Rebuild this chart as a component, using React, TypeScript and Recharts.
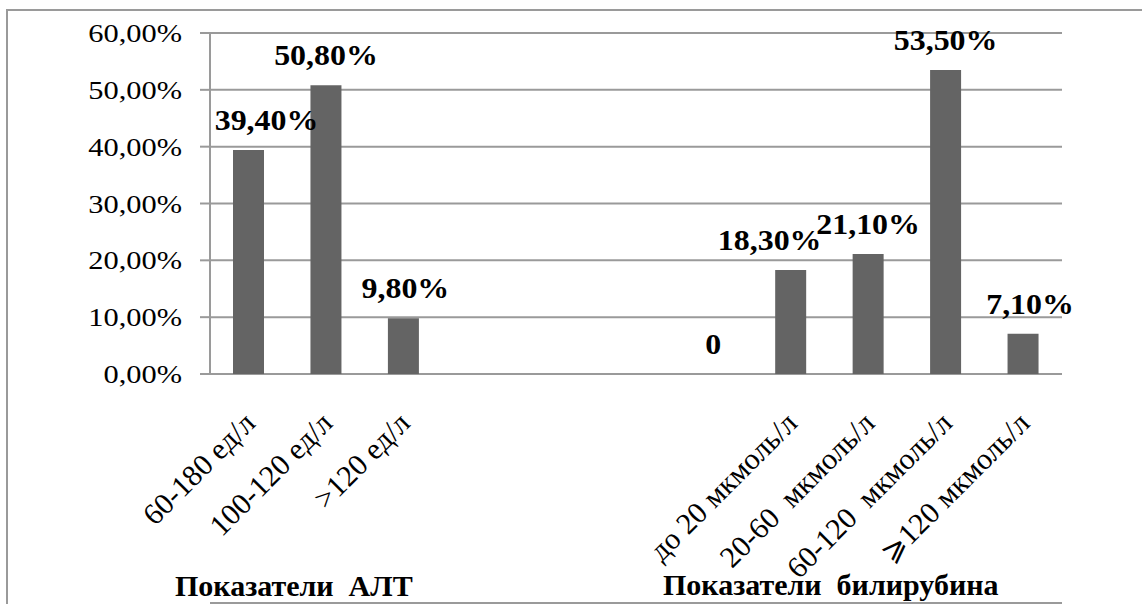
import React from 'react';
import { BarChart, Bar, XAxis, YAxis, CartesianGrid, LabelList, Customized } from 'recharts';

// Categories along the x axis; empty names are spacer slots between the two groups
const categories = [
  '60-180 ед/л',
  '100-120 ед/л',
  '>120 ед/л',
  '',
  '',
  '',
  '',
  'до 20 мкмоль/л',
  '20-60  мкмоль/л',
  '60-120  мкмоль/л',
  '⩾120 мкмоль/л',
];

// Share of patients, percent (null = no bar)
const shares: (number | null)[] = [39.4, 50.8, 9.8, null, null, null, 0, 18.3, 21.1, 53.5, 7.1];

const yTicks = [0, 10, 20, 30, 40, 50, 60];
const slotEdges = [0, 1, 2, 3, 4, 5, 6, 7, 8, 9, 10, 11];

const groupTitles = ['Показатели  АЛТ', 'Показатели  билирубина'];

// Horizontal nudges for the value labels, px, per slot
const labelShift = [18, 0, 2, 0, 0, 0, 0, -21, 0, 0, 7];

const data = categories.map((name, i) => ({ name, value: shares[i], slot: i }));

const FONT = '"Liberation Serif", "Times New Roman", serif';
const GRID = '#9a9a9a';
const BAR = '#646464';

const fmtPct = (v: number) => (v === 0 ? '0' : `${v.toFixed(2).replace('.', ',')}%`);
const yTickText = (v: number) => `${v.toFixed(2).replace('.', ',')}%`;

const YTickLabel = (props: any) => {
  const { x, y, payload } = props;
  return (
    <text
      transform={`translate(${x}, ${y}) scale(1.17, 1)`}
      x={0}
      y={0}
      dy={9}
      textAnchor="end"
      fontFamily={FONT}
      fontSize={26}
      fill="#000"
    >
      {yTickText(payload.value)}
    </text>
  );
};

const XTickLabel = (props: any) => {
  const { x, y, payload } = props;
  const ax = x + 8;
  const ay = y + 51;
  return (
    <text
      x={ax}
      y={ay}
      transform={`rotate(-45, ${ax}, ${ay})`}
      textAnchor="end"
      fontFamily={FONT}
      fontSize={30}
      fill="#000"
      style={{ whiteSpace: 'pre' }}
    >
      {payload.value}
    </text>
  );
};

// Receives the slot index as its value and reads the share from the data arrays
const ValueLabel = (props: any) => {
  const { x, y, width, value: slot } = props;
  const v = shares[slot];
  if (v === null || v === undefined) return null;
  const cx = x + width / 2 + labelShift[slot];
  const by = y - 20;
  return (
    <text
      transform={`translate(${cx}, ${by}) scale(1.1, 1)`}
      x={0}
      y={0}
      textAnchor="middle"
      fontFamily={FONT}
      fontSize={29}
      fontWeight="bold"
      fill="#000"
    >
      {fmtPct(v)}
    </text>
  );
};

const GroupTitles = () => (
  <g>
    <text x={175} y={596} fontFamily={FONT} fontSize={30} fontWeight="bold" fill="#000" style={{ whiteSpace: 'pre' }}>
      {groupTitles[0]}
    </text>
    <text x={663} y={595} fontFamily={FONT} fontSize={30} fontWeight="bold" fill="#000" style={{ whiteSpace: 'pre' }}>
      {groupTitles[1]}
    </text>
  </g>
);

export default function App() {
  return (
    <div style={{ position: 'absolute', left: 0, top: 0, width: 1142, height: 604, overflow: 'hidden', background: '#fff' }}>
      <div
        style={{
          position: 'absolute',
          left: 6,
          top: 9,
          width: 1300,
          height: 800,
          border: `2px solid ${GRID}`,
          boxSizing: 'border-box',
        }}
      />
      <div style={{ position: 'absolute', left: 0, top: 0 }}>
        <BarChart width={1142} height={604} data={data} margin={{ top: 33, right: 80, left: 0, bottom: 0 }}>
          <CartesianGrid vertical={false} stroke={GRID} strokeWidth={2} />
          <XAxis
            xAxisId="edges"
            type="number"
            domain={[0, 11]}
            ticks={slotEdges}
            height={1}
            tick={false}
            tickSize={8}
            axisLine={{ stroke: GRID, strokeWidth: 2 }}
            tickLine={{ stroke: GRID, strokeWidth: 2 }}
            allowDataOverflow
          />
          <XAxis
            dataKey="name"
            height={229}
            interval={0}
            axisLine={false}
            tickLine={false}
            tickSize={0}
            tickMargin={0}
            tick={<XTickLabel />}
          />
          <YAxis
            width={210}
            domain={[0, 60]}
            ticks={yTicks}
            interval={0}
            tickSize={10}
            tickMargin={18}
            axisLine={{ stroke: GRID, strokeWidth: 2 }}
            tickLine={{ stroke: GRID, strokeWidth: 2 }}
            tick={<YTickLabel />}
          />
          <Bar dataKey="value" fill={BAR} barSize={31} minPointSize={0.01} isAnimationActive={false}>
            <LabelList dataKey="slot" content={<ValueLabel />} />
          </Bar>
          <Customized component={GroupTitles} />
        </BarChart>
      </div>
    </div>
  );
}
